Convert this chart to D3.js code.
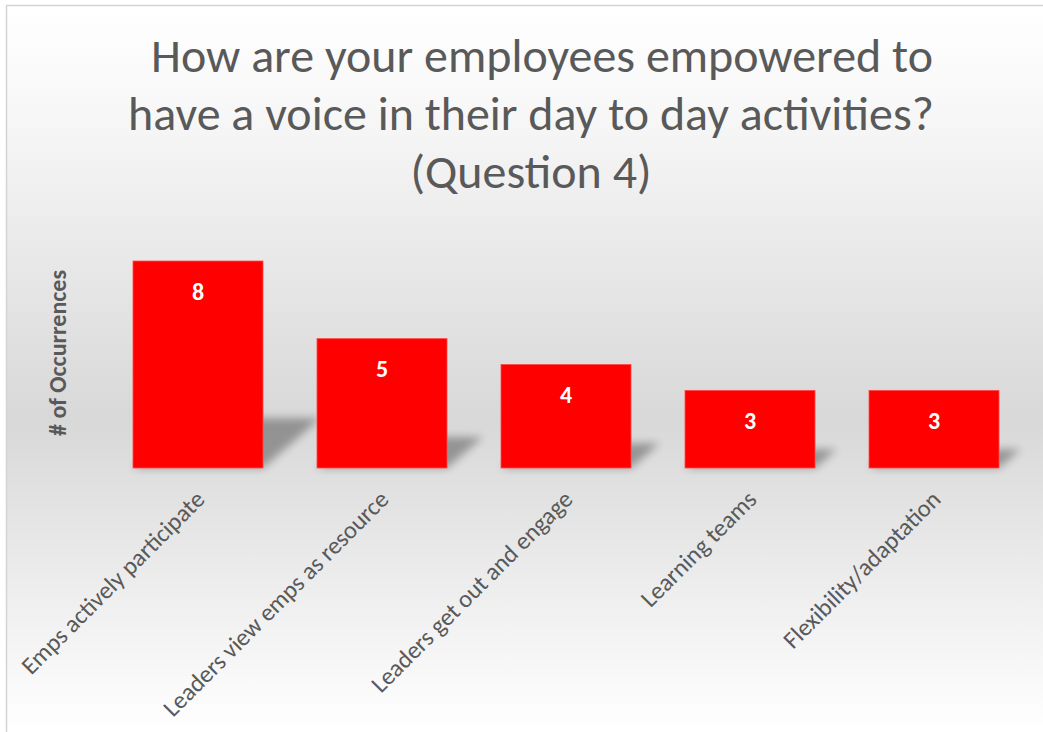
<!DOCTYPE html>
<html>
<head>
<meta charset="utf-8">
<script src="https://cdnjs.cloudflare.com/ajax/libs/d3/7.8.5/d3.min.js"></script>
<style>
  html, body { margin: 0; padding: 0; background: #ffffff; }
  svg { display: block; }
</style>
</head>
<body>
<svg id="chart" width="1043" height="732"></svg>
<script>
// ---- data ----
const categories = [
  "Emps actively participate",
  "Leaders view emps as resource",
  "Leaders get out and engage",
  "Learning teams",
  "Flexibility/adaptation"
];
const values = [8, 5, 4, 3, 3];
const titleLines = [
  "How are your employees empowered to",
  "have a voice in their day to day activities?",
  "(Question 4)"
];
const yAxisTitle = "# of Occurrences";

// ---- setup ----
const W = 1043, H = 732;
const FONT = "Carlito, Calibri, Lato, 'Open Sans', sans-serif";
const svg = d3.select("#chart");
const defs = svg.append("defs");

const grad = defs.append("linearGradient")
  .attr("id", "bg").attr("gradientUnits", "userSpaceOnUse")
  .attr("x1", 0).attr("y1", 6).attr("x2", 0).attr("y2", 732);
[[0, "#ffffff"], [0.15, "#f7f7f7"], [0.57, "#d8d8d8"], [0.83, "#f0f0f0"], [1, "#ffffff"]]
  .forEach(([o, c]) => grad.append("stop").attr("offset", o).attr("stop-color", c));

const blur = defs.append("filter").attr("id", "shadowBlur")
  .attr("x", "-50%").attr("y", "-50%").attr("width", "200%").attr("height", "200%");
blur.append("feGaussianBlur").attr("stdDeviation", 4.5);

// background + border
svg.append("rect").attr("x", 6.5).attr("y", 5.5).attr("width", W + 10).attr("height", H + 10)
  .attr("fill", "url(#bg)").attr("stroke", "#d4d4d4").attr("stroke-width", 1.5);

// ---- scales ----
const x = d3.scaleBand().domain(categories).range([106, 1026])
  .paddingInner(0.2935).paddingOuter(0.1467);
const y = d3.scaleLinear().domain([0, 8]).range([468, 261]);

const data = categories.map((c, i) => ({ cat: c, val: values[i] }));

// ---- shadows ----
svg.append("g").selectAll("path").data(data).join("path")
  .attr("d", d => {
    const x0 = x(d.cat), x1 = x0 + x.bandwidth();
    const y0 = y(0);
    const h = (y(0) - y(d.val)) * 0.24;
    const dx = h * 1.15;
    return `M${x0},${y0}L${x1},${y0}L${x1 + dx},${y0 - h}L${x0 + dx},${y0 - h}Z`;
  })
  .attr("fill", "#000").attr("opacity", 0.32).attr("filter", "url(#shadowBlur)");

// ---- bars ----
svg.append("g").selectAll("rect").data(data).join("rect")
  .attr("x", d => x(d.cat)).attr("y", d => y(d.val))
  .attr("width", x.bandwidth()).attr("height", d => y(0) - y(d.val))
  .attr("fill", "#ff0000").attr("stroke", "#ff4a4a").attr("stroke-width", 0.8);

// ---- value labels ----
svg.append("g").selectAll("text").data(data).join("text")
  .attr("x", d => x(d.cat) + x.bandwidth() / 2)
  .attr("y", d => y(d.val) + 38.5)
  .attr("text-anchor", "middle")
  .attr("font-family", FONT).attr("font-weight", "bold").attr("font-size", 24)
  .attr("fill", "#ffffff")
  .text(d => d.val);

// ---- category axis ----
const axis = svg.append("g").attr("transform", `translate(0,${y(0)})`)
  .call(d3.axisBottom(x).tickSize(0));
axis.select(".domain").remove();
const labels = axis.selectAll(".tick text")
  .attr("x", 0).attr("y", 0).attr("dy", 0)
  .attr("text-anchor", "end")
  .attr("transform", "translate(8,33) rotate(-45)")
  .attr("font-family", FONT).attr("font-size", 20).attr("fill", "#595959");
// fit label font to the reference's label length
{
  const node = labels.filter(d => d === "Learning teams").node();
  const len = node.getComputedTextLength();
  const fs = 20 * 152 / len;
  labels.attr("font-size", fs);
}

// ---- y axis title ----
const yt = svg.append("text")
  .attr("transform", "translate(66,353) rotate(-90)")
  .attr("text-anchor", "middle")
  .attr("font-family", FONT).attr("font-weight", "bold").attr("font-size", 22)
  .attr("fill", "#595959")
  .text(yAxisTitle);
{
  const len = yt.node().getComputedTextLength();
  yt.attr("font-size", 22 * 166 / len);
}

// ---- title ----
const titleX = [542, 531, 531];
const titleY = [72, 130, 188];
const tt = svg.append("g").selectAll("text").data(titleLines).join("text")
  .attr("x", (d, i) => titleX[i]).attr("y", (d, i) => titleY[i])
  .attr("text-anchor", "middle")
  .attr("font-family", FONT).attr("font-size", 40)
  .attr("fill", "#595959")
  .text(d => d);
{
  const len = tt.nodes()[1].getComputedTextLength();
  tt.attr("font-size", 40 * 806 / len);
}
</script>
</body>
</html>
